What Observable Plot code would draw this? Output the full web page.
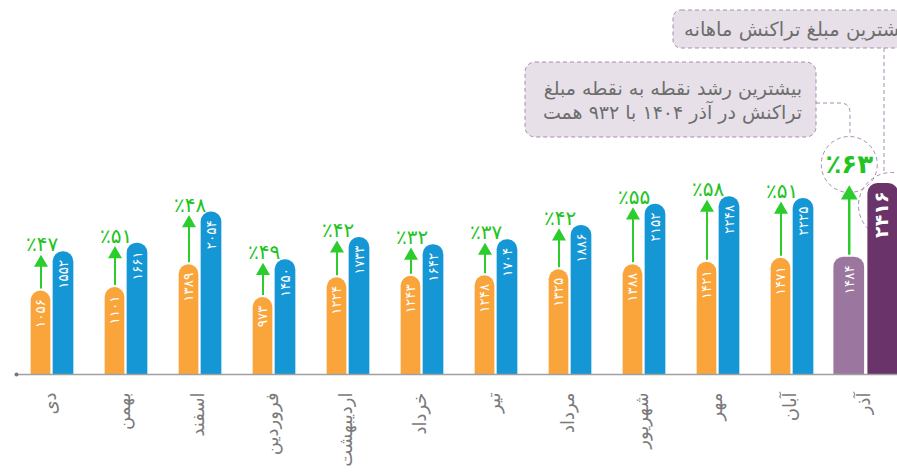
<!DOCTYPE html>
<html>
<head>
<meta charset="utf-8">
<script src="https://cdn.jsdelivr.net/npm/d3@7"></script>
<script src="https://cdn.jsdelivr.net/npm/@observablehq/plot@0.6"></script>
<style>
  html, body { margin: 0; padding: 0; background: #fff; }
  #chart svg { display: block; }
</style>
</head>
<body>
<div id="chart"></div>
<script>
// ---- data ----
const months = ["دی","بهمن","اسفند","فروردین","اردیبهشت","خرداد","تیر","مرداد","شهریور","مهر","آبان","آذر"];
const prevValues = [1056, 1101, 1389, 973, 1224, 1243, 1248, 1325, 1388, 1421, 1471, 1484];
const currValues = [1552, 1661, 2054, 1450, 1733, 1642, 1704, 1886, 2152, 2248, 2225, 2416];
const growthPct = [47, 51, 48, 49, 42, 32, 37, 42, 55, 58, 51, 63];
const note1 = "بیشترین مبلغ تراکنش ماهانه";
const note2 = ["بیشترین رشد نقطه به نقطه مبلغ", "تراکنش در آذر ۱۴۰۴ با ۹۳۲ همت"];

const fa = n => String(n).replace(/\d/g, d => "۰۱۲۳۴۵۶۷۸۹"[d]);
const rows = months.map((m, i) => ({month: m, prev: prevValues[i], curr: currValues[i], growth: growthPct[i]}));
const normal = rows.slice(0, -1);
const last = rows.slice(-1);

const W = 897, H = 472, base = 374, topPx = 183;
const ymax = d3.max(currValues) * base / (base - topPx);
const FONT = "DejaVu Sans";
const ORANGE = "#f9a53b", BLUE = "#1597d6", LPURPLE = "#9b77a0", DPURPLE = "#6a346b";
const GREEN = "#2ccc2c", GTEXT = "#22c322", DASH = "#a98bb0";

const chart = Plot.plot({
  width: W, height: H,
  marginLeft: 16, marginRight: 0, marginTop: 0, marginBottom: H - base,
  style: {fontFamily: FONT, background: "#fff"},
  x: {domain: months, range: [13.35, 904.95], padding: 0, axis: null},
  y: {domain: [0, ymax], axis: null},
  marks: [
    // dashed highlight circles (behind bars)
    Plot.dot(last, {x: "month", y: "curr", dx: -17.25, dy: -19, r: 28, fill: "none", stroke: DASH, strokeWidth: 1, strokeDasharray: "4,3"}),
    Plot.dot(last, {x: "month", y: "curr", dx: 25, dy: 22, r: 33, fill: "none", stroke: DASH, strokeWidth: 1, strokeDasharray: "4,3"}),
    // bars
    Plot.barY(normal, {x: "month", y1: -400, y2: "prev", fill: ORANGE, insetLeft: 15.65, insetRight: 38.65, rx: 10, clip: true}),
    Plot.barY(normal, {x: "month", y1: -400, y2: "curr", fill: BLUE, insetLeft: 37.65, insetRight: 15.65, rx: 10, clip: true}),
    Plot.barY(last, {x: "month", y1: -400, y2: "prev", fill: LPURPLE, insetLeft: 4.4, insetRight: 38.9, rx: 10, clip: true}),
    Plot.barY(last, {x: "month", y1: -400, y2: "curr", fill: DPURPLE, insetLeft: 38.4, insetRight: 4.9, rx: 10, clip: true}),
    // axis baseline
    Plot.ruleY([0], {stroke: "#a0a0a0", strokeWidth: 1.5}),
    Plot.dot([0], {frameAnchor: "bottom-left", r: 2, fill: "#777", stroke: "none"}),
    // values inside bars
    Plot.text(normal, {x: "month", y: "prev", text: d => fa(d.prev), dx: -11.5, dy: 8, rotate: -90, textAnchor: "end", lineAnchor: "middle", fill: "#fff", fontSize: 13.5}),
    Plot.text(normal, {x: "month", y: "curr", text: d => fa(d.curr), dx: 11, dy: 8, rotate: -90, textAnchor: "end", lineAnchor: "middle", fill: "#fff", fontSize: 13.5}),
    Plot.text(last, {x: "month", y: "prev", text: d => fa(d.prev), dx: -17.25, dy: 8, rotate: -90, textAnchor: "end", lineAnchor: "middle", fill: "#fff", fontSize: 13.5}),
    Plot.text(last, {x: "month", y: "curr", text: d => fa(d.curr), dx: 15.5, dy: 8, rotate: -90, textAnchor: "end", lineAnchor: "middle", fill: "#fff", fontSize: 19, fontWeight: "bold"}),
    // growth arrows (y1 = upper end, y2 = lower end)
    Plot.ruleX(normal, {x: "month", y1: "curr", y2: "prev", dx: -11.5, insetTop: 14, insetBottom: 2, stroke: GREEN, strokeWidth: 2}),
    Plot.dot(normal, {x: "month", y: "curr", dx: -11.5, dy: 11, symbol: "triangle", r: 5.2, fill: GREEN, stroke: "none"}),
    Plot.ruleX(last, {x: "month", y1: "curr", y2: "prev", dx: -17.25, insetTop: 14, insetBottom: 2, stroke: GREEN, strokeWidth: 2.5}),
    Plot.dot(last, {x: "month", y: "curr", dx: -17.25, dy: 11.3, symbol: "triangle", r: 6.2, fill: GREEN, stroke: "none"}),
    // growth labels
    Plot.text(normal, {x: "month", y: "curr", text: d => "٪" + fa(d.growth), dx: -10.5, dy: -7, lineAnchor: "middle", fill: GTEXT, fontSize: 20}),
    Plot.text(last, {x: "month", y: "curr", text: d => "٪" + fa(d.growth), dx: -17.25, dy: -19, lineAnchor: "middle", fill: GTEXT, fontSize: 26, fontWeight: "bold"}),
    // month labels
    Plot.text(rows, {x: "month", y: 0, text: "month", dx: -2, dy: 18, rotate: -90, textAnchor: "end", lineAnchor: "middle", fill: "#7a7a7a", fontSize: 18})
  ]
});

document.getElementById("chart").appendChild(chart);

// ---- annotations ----
const svg = d3.select(chart);
const ann = svg.append("g").attr("font-family", FONT);
ann.append("path").attr("d", "M884,48V173").attr("fill", "none").attr("stroke", DASH).attr("stroke-dasharray", "4,3");
ann.append("path").attr("d", "M816,103H840Q850,103 850,113V136").attr("fill", "none").attr("stroke", DASH).attr("stroke-dasharray", "4,3");
ann.append("rect").attr("x", 673).attr("y", 10).attr("width", 250).attr("height", 38).attr("rx", 8)
  .attr("fill", "#e7e0e9").attr("stroke", DASH).attr("stroke-dasharray", "4,3");
ann.append("text").attr("x", 684).attr("y", 36).attr("text-anchor", "start").attr("font-size", 19.5).attr("fill", "#6e6e6e").text(note1);
ann.append("rect").attr("x", 525).attr("y", 62).attr("width", 291).attr("height", 75).attr("rx", 10)
  .attr("fill", "#e7e0e9").attr("stroke", DASH).attr("stroke-dasharray", "4,3");
note2.forEach((t, i) => {
  ann.append("text").attr("x", 802).attr("y", 95 + i * 24).attr("text-anchor", "end").attr("font-size", 19).attr("fill", "#6e6e6e").text(t);
});
</script>
</body>
</html>
